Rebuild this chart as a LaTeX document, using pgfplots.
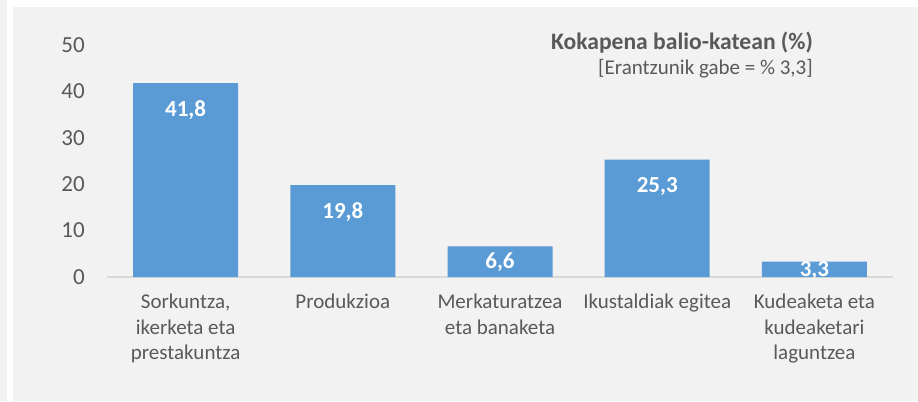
\documentclass[border=0pt]{standalone}
\usepackage{pgfplots}
\pgfplotsset{compat=1.18}
\usepackage{fontspec}
\setmainfont{Carlito}
\definecolor{bg}{HTML}{F2F2F2}
\definecolor{barblue}{HTML}{5B9BD5}
\definecolor{txt}{HTML}{595959}
\definecolor{axl}{HTML}{D9D9D9}
\begin{document}
\begin{tikzpicture}[x=1bp,y=1bp]
\fill[bg] (0,0) rectangle (918,401);
\fill[white] (7,394) rectangle (918,401);
\fill[white] (7,0) rectangle (13,394);
\useasboundingbox (0,0) rectangle (918,401);
\begin{axis}[
  at={(107bp,124bp)}, anchor=south west,
  scale only axis, width=786bp, height=232bp,
  xmin=-0.5, xmax=4.5, ymin=0, ymax=50,
  axis x line*=bottom, axis y line*=left,
  x axis line style={draw=axl, line width=1.2bp, -},
  y axis line style={draw=none},
  major tick length=0pt,
  xtick={0,1,2,3,4},
  xticklabels={{Sorkuntza,\\ikerketa eta\\prestakuntza},Produkzioa,{Merkaturatzea\\eta banaketa},Ikustaldiak egitea,{Kudeaketa eta\\kudeaketari\\laguntzea}},
  ytick={0,10,20,30,40,50},
  /pgf/number format/assume math mode=true,
  xticklabel style={font=\fontsize{21bp}{25.5bp}\selectfont, text=txt, align=center, anchor=north, inner sep=0pt, yshift=-17bp},
  yticklabel style={font=\fontsize{23bp}{27bp}\selectfont, text=txt, anchor=east, inner sep=0pt, xshift=-22bp},
  clip=false,
]
\addplot[ybar, bar width=105bp, fill=barblue, draw=none] coordinates {(0,41.8) (1,19.8) (2,6.6) (3,25.3) (4,3.3)};
\addplot[draw=none, mark=none, nodes near coords, point meta=explicit symbolic,
  every node near coord/.style={anchor=center, inner sep=0pt, font=\fontsize{23bp}{27bp}\selectfont\bfseries, text=white}]
  table[meta=lab] {
x y lab
0 36.0 41,8
1 14.0 19,8
2 3.1 6,6
3 19.5 25,3
4 1.5 3,3
};
\end{axis}
\node[anchor=base east, text=txt, inner sep=0pt, font=\fontsize{23.6bp}{27bp}\selectfont\bfseries] at (813,352) {Kokapena balio-katean (\%)};
\node[anchor=base east, text=txt, inner sep=0pt, font=\fontsize{21bp}{25bp}\selectfont] at (813,327) {[Erantzunik gabe = \% 3,3]};
\end{tikzpicture}
\end{document}
